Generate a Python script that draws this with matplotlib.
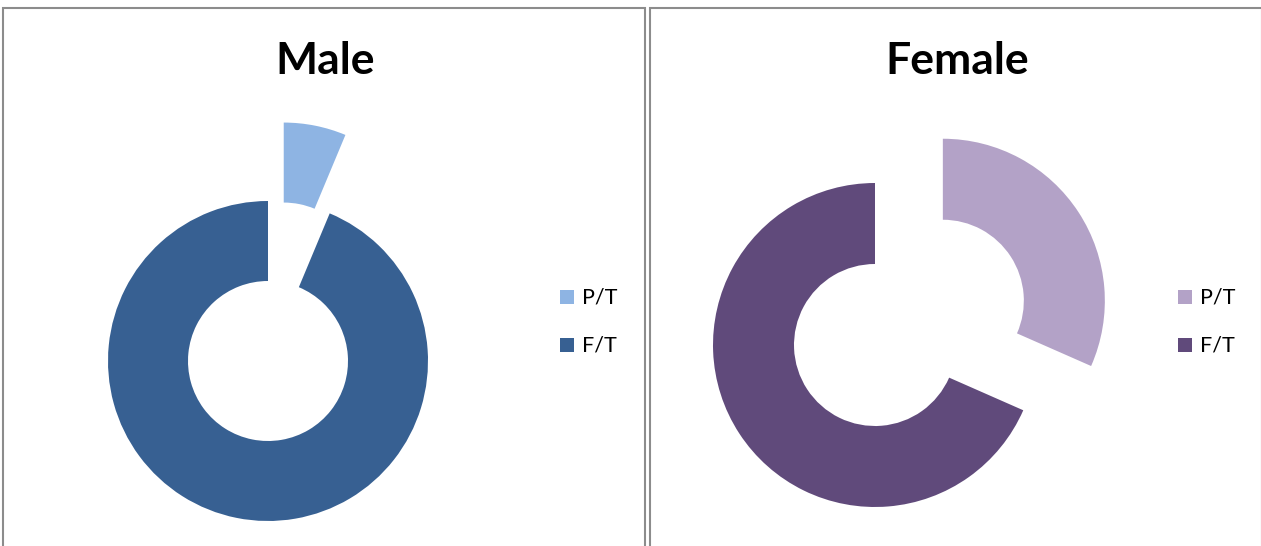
import matplotlib.pyplot as plt
from matplotlib.patches import Rectangle

W, H = 1261, 546

# data
labels = ["P/T", "F/T"]
titles = ["Male", "Female"]
male = [6.3, 93.7]
female = [31.6, 68.4]
male_colors = ["#8EB4E3", "#376092"]
female_colors = ["#B3A2C7", "#604A7B"]

plt.rcParams['font.family'] = ['Lato', 'DejaVu Sans']

fig = plt.figure(figsize=(W / 100, H / 100), dpi=100)
ax = fig.add_axes([0, 0, 1, 1])


def py(y):
    # pixel row (from top) -> data y
    return H - y


panels = [
    # values, colors, title, center(px), radius, panel x0, x1, legend x
    (male, male_colors, titles[0], (268, 361), 160, 3, 645, 560),
    (female, female_colors, titles[1], (875, 345), 162, 650, 1262, 1178),
]

for vals, cols, title, (cx, cy), r, x0, x1, lx in panels:
    ax.pie(vals, colors=cols, startangle=90, counterclock=False,
           center=(cx, py(cy)), radius=r, explode=[0.5 * r, 0],
           wedgeprops=dict(width=0.5 * r, linewidth=0))
    ax.add_patch(Rectangle((x0, -10), x1 - x0, py(8) + 10, fill=False,
                           edgecolor="#8C8C8C", linewidth=1.5))
    ax.text((x0 + x1) / 2 + 1, py(61), title, fontsize=32, fontweight="bold",
            ha="center", va="center")
    for k, (lab, c) in enumerate(zip(labels, cols)):
        yy = 297 + 48 * k
        ax.add_patch(Rectangle((lx, py(yy) - 7), 14, 14, facecolor=c,
                               edgecolor="none"))
        ax.text(lx + 22, py(yy), lab, fontsize=15.5, ha="left", va="center")

ax.set_xlim(0, W)
ax.set_ylim(0, H)
ax.set_aspect("auto")
ax.axis("off")

fig.savefig("out.png", dpi=100)
